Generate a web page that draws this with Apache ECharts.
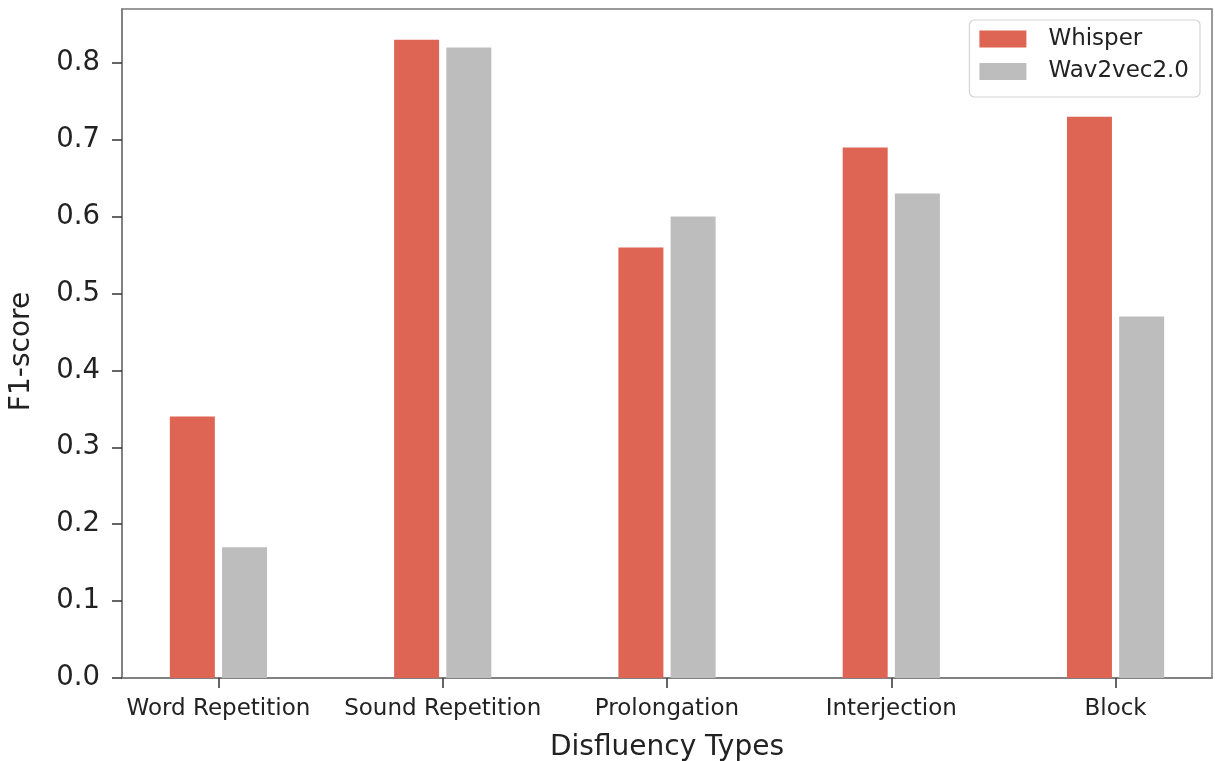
<!DOCTYPE html>
<html>
<head>
<meta charset="utf-8">
<script src="https://cdn.jsdelivr.net/npm/echarts@6/dist/echarts.min.js"></script>
<style>
html,body{margin:0;padding:0;background:#fff;}
#chart{width:1215px;height:761px;}
</style>
</head>
<body>
<div id="chart"></div>
<script>
const categories = ['Word Repetition', 'Sound Repetition', 'Prolongation', 'Interjection', 'Block'];
const whisper = [0.34, 0.83, 0.56, 0.69, 0.73];
const wav2vec = [0.17, 0.82, 0.60, 0.63, 0.47];
const yTicks = [0, 0.1, 0.2, 0.3, 0.4, 0.5, 0.6, 0.7, 0.8];
const seriesNames = ['Whisper', 'Wav2vec2.0'];
const xTicks = categories.map((c, i) => i);

const FONT = 'DejaVu Sans';
const chart = echarts.init(document.getElementById('chart'));
chart.setOption({
  animation: false,
  backgroundColor: '#ffffff',
  textStyle: { fontFamily: FONT },
  grid: {
    left: 122, right: 3, top: 9, bottom: 83,
    show: true, borderColor: '#7a7a7a', borderWidth: 1.5,
    containLabel: false,
    outerBoundsMode: 'none'
  },
  legend: {
    orient: 'vertical',
    right: 15, top: 20,
    data: seriesNames,
    itemWidth: 47, itemHeight: 17, itemGap: 9.5,
    padding: [7.5, 11, 14, 10],
    backgroundColor: '#ffffff',
    borderColor: '#d4d4d4', borderWidth: 1.2, borderRadius: 5,
    icon: 'rect',
    textStyle: { fontFamily: FONT, fontSize: 23, color: '#222', padding: [0, 0, 0, 17] }
  },
  xAxis: {
    type: 'value',
    min: -0.43, max: 4.43,
    name: 'Disfluency Types',
    nameLocation: 'middle',
    nameGap: 56,
    nameTextStyle: { fontFamily: FONT, fontSize: 28, color: '#222' },
    splitLine: { show: false },
    axisLine: { show: true, onZero: false, lineStyle: { color: '#7a7a7a', width: 1.5 } },
    axisTick: { show: true, length: 10, customValues: xTicks, lineStyle: { color: '#333', width: 1.5 } },
    axisLabel: {
      customValues: xTicks,
      margin: 20,
      fontFamily: FONT, fontSize: 23, color: '#222',
      formatter: function (v) { return categories[Math.round(v)] || ''; }
    }
  },
  yAxis: {
    type: 'value',
    min: 0, max: 0.87,
    name: 'F1-score',
    nameLocation: 'middle',
    nameGap: 86,
    nameRotate: 90,
    nameTextStyle: { fontFamily: FONT, fontSize: 28, color: '#222', padding: [0, 16, 0, 0] },
    splitLine: { show: false },
    axisLine: { show: true, onZero: false, lineStyle: { color: '#7a7a7a', width: 1.5 } },
    axisTick: { show: true, length: 10, customValues: yTicks, lineStyle: { color: '#333', width: 1.5 } },
    axisLabel: {
      customValues: yTicks,
      margin: 22,
      fontFamily: FONT, fontSize: 27.5, color: '#222',
      formatter: function (v) { return v.toFixed(1); }
    }
  },
  series: [
    {
      name: seriesNames[0], type: 'bar',
      barWidth: 45, barGap: '16%',
      itemStyle: { color: '#DE6553' },
      data: whisper.map((v, i) => [i, v])
    },
    {
      name: seriesNames[1], type: 'bar',
      barWidth: 45, barGap: '16%',
      itemStyle: { color: '#BDBDBD' },
      data: wav2vec.map((v, i) => [i, v])
    }
  ]
});
</script>
</body>
</html>
